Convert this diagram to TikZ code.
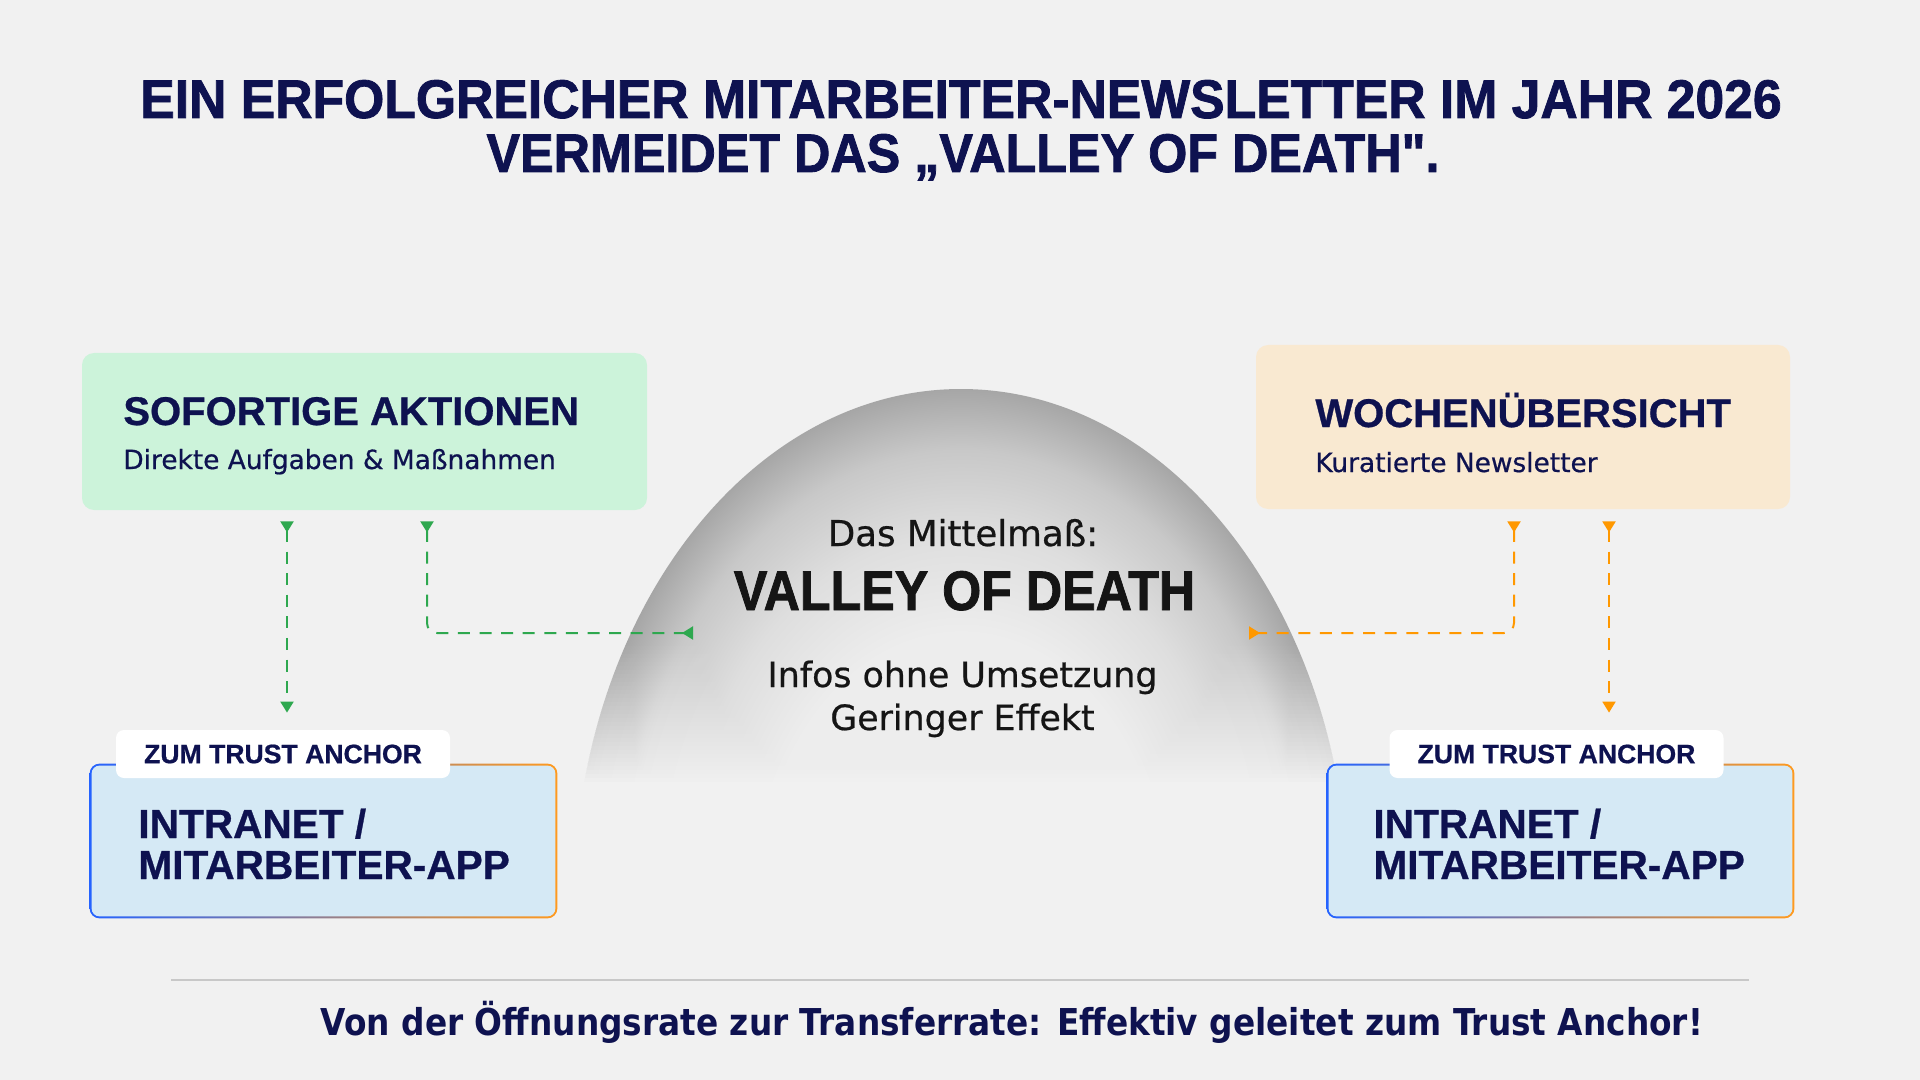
\documentclass[tikz,border=0pt]{standalone}
\usepackage{fontspec}
\usepackage{graphicx}
\setmainfont{Liberation Sans}[BoldFeatures={FakeBold=0.7}]
\newfontfamily\heavyfont{Liberation Sans}[Ligatures=TeXOff, BoldFeatures={FakeBold=1.5}]
\newfontfamily\dejavu{DejaVu Sans}[UprightFeatures={FakeBold=0.6}]
\usetikzlibrary{arrows.meta}

\definecolor{bgGrey}{HTML}{F1F1F1}
\definecolor{navy}{HTML}{0E1250}
\definecolor{inkBlack}{HTML}{151515}
\definecolor{greenFill}{HTML}{CCF3DA}
\definecolor{orangeFill}{HTML}{F9E9D1}
\definecolor{blueFill}{HTML}{D5E9F5}
\definecolor{arrowGreen}{HTML}{2EA84F}
\definecolor{arrowOrange}{HTML}{FF9800}
\definecolor{edgeBlue}{HTML}{2563FF}
\definecolor{edgePurple}{HTML}{B648F2}
\definecolor{edgeOrange}{HTML}{FF9A1F}
\definecolor{domeLight}{HTML}{EDEDED}
\definecolor{domeSoft}{HTML}{DEDEDE}
\definecolor{domeMid}{HTML}{C8C8C8}
\definecolor{domeDark}{HTML}{A6A6A6}
\definecolor{ruleGrey}{HTML}{C8C8C8}

% shadings map their middle 50bp onto the path, so the rim sits at 25bp
\pgfdeclareradialshading{domeShade}{\pgfpoint{0bp}{0bp}}{color(0bp)=(domeLight); color(13bp)=(domeLight); color(18bp)=(domeSoft); color(22bp)=(domeMid); color(25bp)=(domeDark); color(50bp)=(domeDark)}

\begin{document}
\begin{tikzpicture}[
    x=0.5pt, y=-0.5pt,
    every node/.style={inner sep=0pt, text=navy},
    bigTitle/.style={anchor=base, font=\heavyfont\bfseries\fontsize{27.2}{30}\selectfont},
    actBox/.style={fill=greenFill, rounded corners=6pt, minimum width=282.5pt, minimum height=78.5pt},
    weekBox/.style={fill=orangeFill, rounded corners=6pt, minimum width=267pt, minimum height=82pt},
    appBox/.style={minimum width=233.5pt, minimum height=77pt},
    boxTitle/.style={anchor=base west, font=\bfseries\fontsize{20}{24}\selectfont},
    boxSub/.style={anchor=base west, font=\dejavu\fontsize{13.2}{16}\selectfont},
    appText/.style={anchor=base west, font=\bfseries\fontsize{20.3}{24}\selectfont},
    tagBox/.style={fill=white, rounded corners=4pt, minimum width=167pt, minimum height=24pt, font=\bfseries\fontsize{13.3}{16}\selectfont},
    valleyText/.style={anchor=base, text=inkBlack, font=\dejavu\fontsize{17.4}{20}\selectfont},
    flowGreen/.style={draw=arrowGreen, line width=1pt, dash pattern=on 6pt off 4.8pt, shorten <=5.5pt},
    flowOrange/.style={draw=arrowOrange, line width=1pt, dash pattern=on 6pt off 4.8pt, shorten <=6pt},
    bothDown/.style={{Triangle[reversed,width=6.5pt,length=5.5pt]}-{Triangle[width=6.5pt,length=5.5pt]}, shorten >=8.5pt},
    downSide/.style={{Triangle[reversed,width=6.5pt,length=5.5pt]}-{Triangle[reversed,width=6.5pt,length=5.5pt]}, rounded corners=5pt}
        ]
    \fill[bgGrey] (0,0) rectangle (1920,1080);
    \useasboundingbox (0,0) rectangle (1920,1080);

    % the valley, fading out towards its foot
    \begin{scope}
        \clip (560,380) rectangle (1360,800);
        \shade[shading=domeShade] (961,900) ellipse (387 and 511);
    \end{scope}
    \foreach \k [evaluate=\k as \op using 1/(36-\k)] in {1,...,35}
        \fill[bgGrey, opacity=\op] (560,642+4*\k) rectangle (1360,805);

    \node[bigTitle] (titleTop) at (961,118) {\scalebox{0.95}[1]{EIN ERFOLGREICHER MITARBEITER-NEWSLETTER IM JAHR 2026}};
    \node[bigTitle] (titleBottom) at (963,172) {\scalebox{0.925}[1]{VERMEIDET DAS „VALLEY OF DEATH".}};

    \node[actBox] (act) at (364.5,431.5) {};
    \node[boxTitle] (actTitle) at (123,425) {SOFORTIGE AKTIONEN};
    \node[boxSub] (actSub) at (123,469) {Direkte Aufgaben \& Maßnahmen};

    \node[weekBox] (week) at (1523,427) {};
    \node[boxTitle] (weekTitle) at (1315,427) {WOCHENÜBERSICHT};
    \node[boxSub] (weekSub) at (1315,472) {Kuratierte Newsletter};

    \node[appBox] (appL) at (323.5,841) {};
    \shade[left color=edgeBlue, middle color=edgePurple, right color=edgeOrange, rounded corners=5pt] (appL.south west) rectangle (appL.north east);
    \fill[blueFill, rounded corners=4pt] ([shift={(1pt,1pt)}]appL.south west) rectangle ([shift={(-1pt,-1pt)}]appL.north east);
    \node[appText] (appLTop) at (138,838) {INTRANET /};
    \node[appText] (appLBottom) at (138,879) {MITARBEITER-APP};
    \node[tagBox] (tagL) at (283,754) {ZUM TRUST ANCHOR};

    \node[appBox] (appR) at (1560.5,841) {};
    \shade[left color=edgeBlue, middle color=edgePurple, right color=edgeOrange, rounded corners=5pt] (appR.south west) rectangle (appR.north east);
    \fill[blueFill, rounded corners=4pt] ([shift={(1pt,1pt)}]appR.south west) rectangle ([shift={(-1pt,-1pt)}]appR.north east);
    \node[appText] (appRTop) at (1373,838) {INTRANET /};
    \node[appText] (appRBottom) at (1373,879) {MITARBEITER-APP};
    \node[tagBox] (tagR) at (1556.5,754) {ZUM TRUST ANCHOR};

    \node[valleyText, font=\dejavu\fontsize{17.8}{20}\selectfont] (vodIntro) at (963,546) {Das Mittelmaß:};
    \node[anchor=base, text=inkBlack, font=\heavyfont\bfseries\fontsize{27.9}{30}\selectfont] (vodTitle) at (964.5,610) {\scalebox{0.9}[1]{VALLEY OF DEATH}};
    \node[valleyText] (vodLineA) at (962.5,687) {Infos ohne Umsetzung};
    \node[valleyText] (vodLineB) at (962.5,730) {Geringer Effekt};

    \coordinate (valleyIn) at (693,633);
    \coordinate (valleyOut) at (1249,633);

    \draw[flowGreen, bothDown] ([xshift=-38.75pt]act.south) -- ([xshift=2pt]tagL.north);
    \draw[flowGreen, downSide] ([xshift=31.25pt]act.south) |- (valleyIn);
    \draw[flowOrange, downSide] ([xshift=-4.5pt]week.south) |- (valleyOut);
    \draw[flowOrange, bothDown] ([xshift=43pt]week.south) -- ([xshift=26.25pt]tagR.north);

    \draw[ruleGrey, line width=1pt] (171,980) -- (1749,980);
    \node[anchor=base, font=\dejavu\bfseries\fontsize{18.5}{22}\selectfont] (footer) at (1012,1035) {\scalebox{0.886}[1]{Von der Öffnungsrate zur Transferrate: Effektiv geleitet zum Trust Anchor!}};
\end{tikzpicture}
\end{document}
